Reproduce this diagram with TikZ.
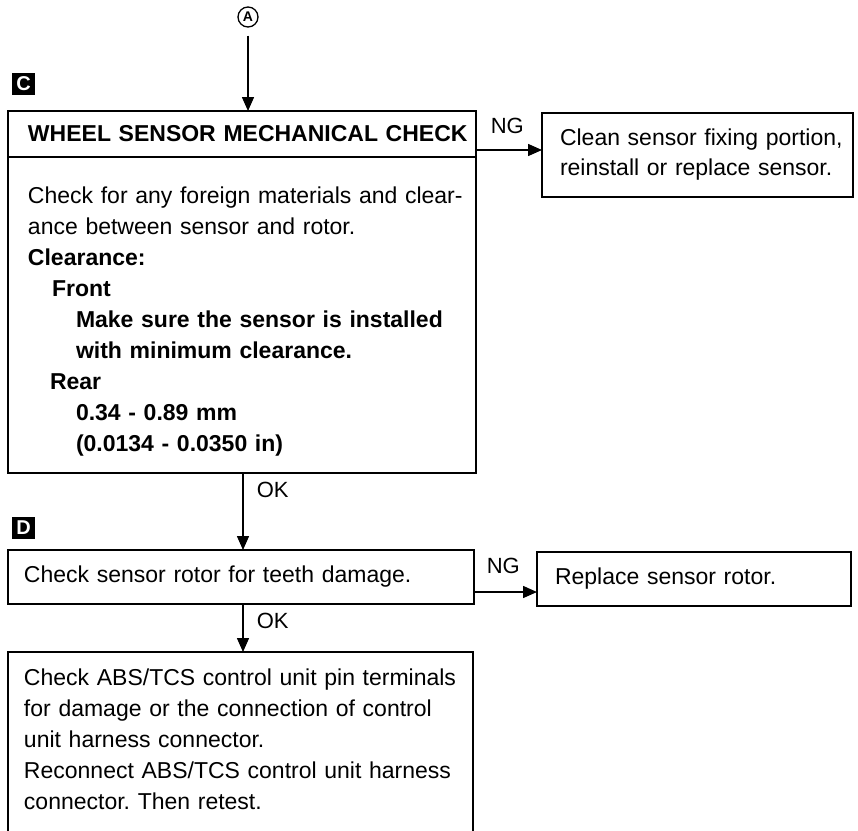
\documentclass[tikz,border=0pt]{standalone}
\usepackage{fontspec}
\setmainfont{Liberation Sans}
\usetikzlibrary{arrows.meta}
\frenchspacing
\begin{document}
\begin{tikzpicture}[x=1pt,y=-1pt, line width=1.5pt,
  frame/.style={draw, inner xsep=0pt, inner ysep=0pt, outer sep=0pt, align=left, font=\fontsize{23}{31}\selectfont},
  arr/.style={-{Triangle[length=14pt,width=12pt]}},
  lbl/.style={font=\fontsize{22}{26}\selectfont, inner sep=0pt},
  tag/.style={fill=black, text=white, font=\bfseries\fontsize{20}{20}\selectfont, minimum width=23pt, minimum height=22pt, inner sep=0pt}
]
\useasboundingbox (0,0) rectangle (858,830);

% connector start A
\node[draw, circle, line width=1.3pt, minimum size=20pt, inner sep=0pt, font=\bfseries\fontsize{14}{14}\selectfont] (A) at (248,17) {A};

% step tags
\node[tag] (tC) at (23.5,84) {C};
\node[tag] (tD) at (23.5,528) {D};

% box 1
\node[frame, anchor=north west, minimum height=46pt, text width=468pt, font=\bfseries\fontsize{23}{31}\selectfont] (head1) at (8,111) {\leftskip=20pt WHEEL SENSOR MECHANICAL CHECK\par};
\node[frame, anchor=north west, minimum height=316pt, text width=468pt] (body1) at (head1.south west) {\leftskip=20pt \rule{0pt}{29pt}Check for any foreign materials and clear-\\
ance between sensor and rotor.\\
\textbf{Clearance:}\\
\hspace*{24pt}\textbf{Front}\\
\hspace*{48pt}\textbf{Make sure the sensor is installed}\\
\hspace*{48pt}\textbf{with minimum clearance.}\\
\hspace*{22pt}\textbf{Rear}\\
\hspace*{48pt}\textbf{0.34 - 0.89 mm}\\
\hspace*{48pt}\textbf{(0.0134 - 0.0350 in)}\par};

% box 2
\node[frame, anchor=north west, minimum height=84pt, text width=311pt, font=\fontsize{23}{30}\selectfont] (box2) at (542,113) {\leftskip=18pt Clean sensor fixing portion,\\ reinstall or replace sensor.\par};

% box 3
\node[frame, anchor=north west, minimum height=54pt, text width=466pt] (box3) at (8,550) {\leftskip=16pt Check sensor rotor for teeth damage.\par};

% box 4
\node[frame, anchor=north west, minimum height=54pt, text width=314pt] (box4) at (537,552) {\leftskip=18pt Replace sensor rotor.\par};

% box 5 (continues past the bottom edge)
\node[frame, draw=none, anchor=north west, inner ysep=17pt, text width=465pt] (box5) at (8,652) {\leftskip=16pt Check ABS/TCS control unit pin terminals\\
for damage or the connection of control\\
unit harness connector.\\
Reconnect ABS/TCS control unit harness\\
connector. Then retest.\par};
\draw (box5.north west) ++(0,220) -- (box5.north west) -- (box5.north east) -- ++(0,220);

% labels
\node[lbl, anchor=west] (ng1) at (490,126) {NG};
\node[lbl, anchor=west] (ok1) at (256,490) {OK};
\node[lbl, anchor=west] (ng2) at (486,566) {NG};
\node[lbl, anchor=west] (ok2) at (256,621) {OK};

% connectors
\draw[arr] ([yshift=-8pt]A.south) -- (A.south |- head1.north);
\draw[arr] ([yshift=-16pt]head1.east) -- ([yshift=-16pt]head1.east -| box2.west);
\draw[arr] ([xshift=1pt]body1.south) -- ([xshift=1pt]body1.south |- box3.north);
\draw[arr] ([yshift=-15pt]box3.east) -- ([yshift=-15pt]box3.east -| box4.west);
\draw[arr] ([xshift=2pt]box3.south) -- ([xshift=2pt]box3.south |- box5.north);
\end{tikzpicture}
\end{document}
